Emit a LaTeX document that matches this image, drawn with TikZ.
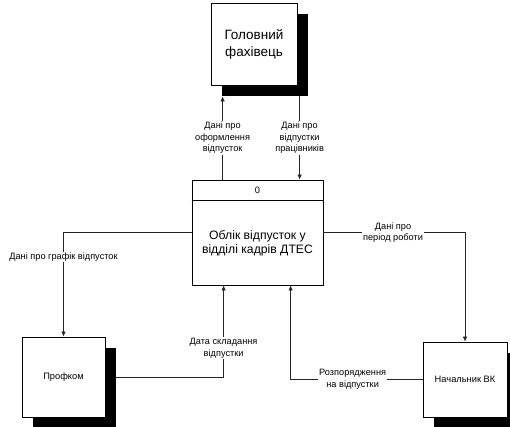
\documentclass[tikz,border=0pt]{standalone}
\usepackage{fontspec}
\setmainfont{Liberation Sans}
\usetikzlibrary{arrows.meta,shadows,calc}
\tikzset{
  ext/.style={draw=black, fill=white, line width=0.8pt, inner sep=2pt, align=center,
    drop shadow={shadow xshift=11pt, shadow yshift=-11pt, opacity=1, fill=black}},
  procbox/.style={draw=black, fill=white, line width=0.8pt, minimum width=131pt, minimum height=105pt},
  flow/.style={draw=black!85, line width=0.7pt, -{Latex[length=5pt,width=4.5pt]}},
  lab/.style={fill=white, inner sep=1pt, align=center, font=\fontsize{9.2}{11.5}\selectfont},
}
\begin{document}
\begin{tikzpicture}[x=1pt,y=1pt]
\useasboundingbox (0,0) rectangle (510,-426);
% external entities
\node[ext, minimum width=86pt, minimum height=82pt, font=\fontsize{13.5}{17}\selectfont] (top) at (254,-44) {Головний\\фахівець};
\node[ext, minimum width=83pt, minimum height=80pt, font=\fontsize{9.3}{11}\selectfont] (prof) at (63.5,-377) {Профком};
\node[ext, minimum width=84pt, minimum height=75pt, font=\fontsize{9.3}{11}\selectfont] (nach) at (465,-379.5) {Начальник ВК};
% process
\node[procbox] (proc) at (257.5,-232.5) {};
\draw[line width=0.8pt] ([yshift=-21pt]proc.north west) -- ([yshift=-21pt]proc.north east);
\node[font=\fontsize{9.3}{11}\selectfont] (pid) at ([yshift=-10.5pt]proc.north) {0};
\node[align=center, font=\fontsize{12.2}{14}\selectfont] (ptext) at ([yshift=-11pt]proc.center) {Облік відпусток у\\відділі кадрів ДТЕС};
% flows
\draw[flow] ([xshift=31pt]proc.north west) -- ([xshift=12pt,yshift=-11pt]top.south west)
  node[lab, midway] {Дані про\\оформлення\\відпусток};
\draw[flow] ([xshift=89pt,yshift=-11pt]top.south west) -- ([xshift=108pt]proc.north west)
  node[lab, midway] {Дані про\\відпустки\\працівників};
\draw[flow] (proc.west) -| (prof.north)
  node[lab, pos=0.617] {Дані про графік відпусток};
\draw[flow] (proc.east) -| (nach.north)
  node[lab, pos=0.246] {Дані про\\період роботи};
\draw[flow] (nach.west) -| ([xshift=99pt]proc.south west)
  node[lab, pos=0.265] {Розпорядження\\на відпустки};
\draw[flow] ([xshift=11pt]prof.east) -| ([xshift=32pt]proc.south west)
  node[lab, pos=0.658] {Дата складання\\відпустки};
\end{tikzpicture}
\end{document}
